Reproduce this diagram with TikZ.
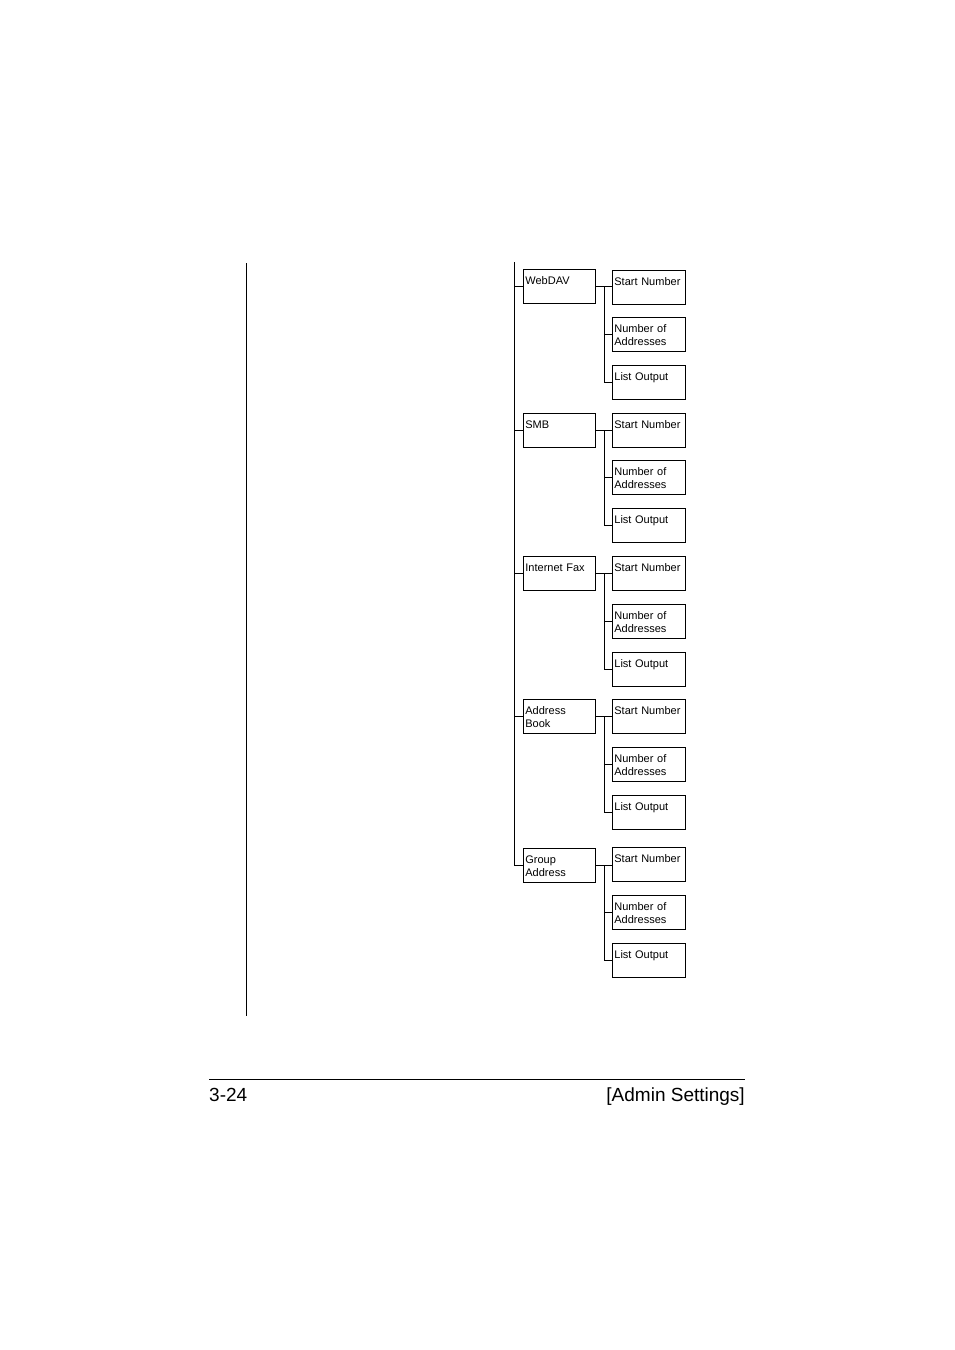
\documentclass[tikz,border=0pt]{standalone}
\usepackage{fontspec}
\setmainfont{Liberation Sans}
\usetikzlibrary{calc}
\begin{document}
\begin{tikzpicture}[x=1pt,y=-1pt]
\tikzset{
  ln/.style={line width=0.8pt},
  box/.style={draw, line width=0.8pt, anchor=north west, align=left, inner xsep=2pt, inner ysep=2pt,
    text height=12.8pt, text depth=17.6pt, font=\fontsize{11}{13}\selectfont},
  mainbox/.style={box, text width=68pt},
  subbox/.style={box, text width=69pt},
  foot/.style={inner sep=0pt, font=\fontsize{19}{22}\selectfont}
}
\useasboundingbox (0,0) rectangle (954,1350);
% left page rule
\coordinate (l1) at (246,263);
\coordinate (l2) at (246,1016);
\draw[ln] (l1) -- (l2);
% boxes
\foreach \i/\lbl/\ya/\yb/\yc/\yd in {1/WebDAV/269/270/317/365, 2/SMB/413/413/460/508, 3/Internet Fax/556/556/604/652, 4/{Address\\Book}/699/699/747/795, 5/{Group\\Address}/848/847/895/943}{
  \node[mainbox] (m\i) at (523,\ya) {\lbl};
  \node[subbox] (a\i) at (612,\yb) {Start Number};
  \node[subbox] (b\i) at (612,\yc) {Number of\\Addresses};
  \node[subbox] (c\i) at (612,\yd) {List Output};
}
% trunk
\coordinate (trunktop) at (514,262);
\draw[ln] (trunktop) |- (m5.west);
\foreach \i in {1,...,4}{
  \draw[ln] (m\i.west) -- (m\i.west -| trunktop);
}
\foreach \i in {1,...,5}{
  \draw[ln] (m\i.east) -- (m\i.east -| a\i.west);
  \coordinate (j\i) at ($(m\i.east)!0.5!(m\i.east -| a\i.west)$);
  \draw[ln] (j\i) |- (c\i.west);
  \draw[ln] (j\i |- b\i.west) -- (b\i.west);
}
% footer
\coordinate (f1) at (209,1079);
\coordinate (f2) at (745,1079);
\draw[ln] (f1) -- (f2);
\node[foot, anchor=base west] (pg) at (209,1101.5) {3-24};
\node[foot, anchor=base east] (sec) at (745,1101.5) {[Admin Settings]};
\end{tikzpicture}
\end{document}
